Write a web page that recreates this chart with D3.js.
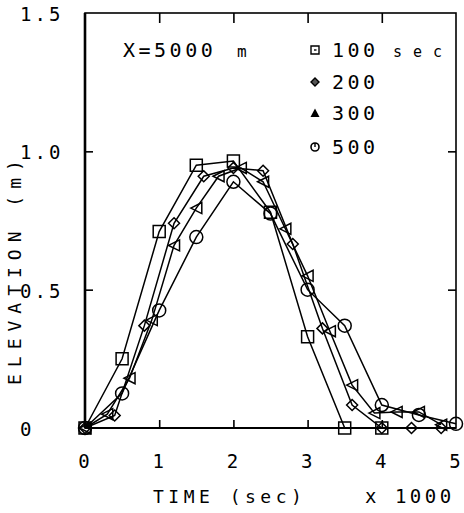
<!DOCTYPE html>
<html>
<head>
<meta charset="utf-8">
<script src="https://cdn.jsdelivr.net/npm/d3@7"></script>
<style>
  body { margin: 0; background: #fff; }
  text { font-family: "DejaVu Sans Mono", monospace; fill: #000; }
</style>
</head>
<body>
<svg id="chart" width="464" height="513"></svg>
<script>
// time in 1000 sec, elevation in m, one pair of arrays per time step
let time100 = [0, 0.5, 1, 1.5, 2, 2.5, 3, 3.5, 4]
let elev100 = [0, 0.25, 0.71, 0.95, 0.965, 0.78, 0.33, 0, 0]

let time200 = [0, 0.4, 0.8, 1.2, 1.6, 2.0, 2.4, 2.8, 3.2, 3.6, 4.0, 4.4, 4.8]
let elev200 = [0, 0.045, 0.37, 0.74, 0.91, 0.94, 0.93, 0.665, 0.36, 0.083, 0, 0, 0]

let time300 = [0, 0.3, 0.6, 0.9, 1.2, 1.5, 1.8, 2.1, 2.4, 2.7, 3.0, 3.3, 3.6, 3.9, 4.2, 4.5, 4.8]
let elev300 = [0, 0.05, 0.18, 0.39, 0.66, 0.795, 0.91, 0.94, 0.89, 0.72, 0.55, 0.35, 0.155, 0.054, 0.058, 0.058, 0.012]

let time500 = [0, 0.5, 1, 1.5, 2, 2.5, 3, 3.5, 4, 4.5, 5]
let elev500 = [0, 0.125, 0.425, 0.69, 0.89, 0.775, 0.5, 0.37, 0.083, 0.047, 0.015]

let xTicks = [0, 1, 2, 3, 4, 5]
let yTicks = [0, 0.5, 1.0, 1.5]
let yTickLabels = ['0', '0.5', '1.0', '1.5']
let legendLabels = ['100', '200', '300', '500']

let width = 464
let height = 513
let margin = {top: 13, right: 8, bottom: 85, left: 85}

let svg = d3.select('#chart')

let xScale = d3.scaleLinear()
                .domain([0, 5])
                .range([margin.left, width - margin.right])
let yScale = d3.scaleLinear()
                .domain([0, 1.5])
                .range([height - margin.bottom, margin.top])

// frame
svg.append('rect')
    .attr('x', xScale(0))
    .attr('y', yScale(1.5))
    .attr('width', xScale(5) - xScale(0))
    .attr('height', yScale(0) - yScale(1.5))
    .attr('fill', 'none')
    .attr('stroke', '#000')
    .attr('stroke-width', 1.6)
svg.append('line')
    .attr('x1', xScale(0)).attr('x2', xScale(0))
    .attr('y1', yScale(1.5)).attr('y2', yScale(0))
    .attr('stroke', '#000').attr('stroke-width', 2.6)
svg.append('line')
    .attr('x1', xScale(0)).attr('x2', xScale(5))
    .attr('y1', yScale(0)).attr('y2', yScale(0))
    .attr('stroke', '#000').attr('stroke-width', 2.2)

let styleAxis = (g) => {
    g.select('.domain').remove()
    g.selectAll('.tick line').attr('stroke', '#000').attr('stroke-width', 1.6)
    g.selectAll('.tick text')
        .style('font-size', '19px')
        .style('letter-spacing', '3px')
}

// bottom axis, ticks point inwards
svg.append('g')
    .attr('transform', 'translate(0,' + yScale(0) + ')')
    .call(d3.axisBottom(xScale).tickValues(xTicks).tickSizeInner(-8).tickSizeOuter(0).tickPadding(27).tickFormat(d3.format('d')))
    .call(styleAxis)
    .call(g => g.selectAll('.tick').filter(d => d === 0 || d === 5).select('line').remove())

// top axis
svg.append('g')
    .attr('transform', 'translate(0,' + yScale(1.5) + ')')
    .call(d3.axisTop(xScale).tickValues([1, 2, 3, 4]).tickSizeInner(-10).tickSizeOuter(0).tickFormat(''))
    .call(styleAxis)

// left axis, labels left aligned
svg.append('g')
    .attr('transform', 'translate(' + xScale(0) + ',0)')
    .call(d3.axisLeft(yScale).tickValues(yTicks).tickSizeInner(-8).tickSizeOuter(0)
        .tickFormat((d, i) => yTickLabels[i]))
    .call(styleAxis)
    .call(g => g.selectAll('.tick text').attr('text-anchor', 'start').attr('x', 20 - margin.left).attr('dy', '0.4em'))
    .call(g => g.selectAll('.tick').filter(d => d === 0 || d === 1.5).select('line').remove())

// right axis
svg.append('g')
    .attr('transform', 'translate(' + xScale(5) + ',0)')
    .call(d3.axisRight(yScale).tickValues([0.5, 1.0]).tickSizeInner(-8).tickSizeOuter(0).tickFormat(''))
    .call(styleAxis)

// axis titles
svg.append('text')
    .attr('x', 153)
    .attr('y', 503)
    .style('font-size', '18px')
    .style('letter-spacing', '4.5px')
    .text('TIME (sec)')
svg.append('text')
    .attr('x', 365)
    .attr('y', 503)
    .style('font-size', '19px')
    .style('letter-spacing', '3.5px')
    .text('x 1000')
svg.append('text')
    .attr('transform', 'translate(21,385) rotate(-90)')
    .style('font-size', '18px')
    .style('letter-spacing', '7px')
    .text('ELEVATION (m)')

// series
let series = [
    {time: time100, elev: elev100, mark: 'square'},
    {time: time200, elev: elev200, mark: 'diamond'},
    {time: time300, elev: elev300, mark: 'triangle'},
    {time: time500, elev: elev500, mark: 'circle'}
]

let line = d3.line()
    .x(d => xScale(d[0]))
    .y(d => yScale(d[1]))

let markPath = (mark, s) => {
    if (mark === 'square') {
        return 'M' + (-s) + ',' + (-s) + 'H' + s + 'V' + s + 'H' + (-s) + 'Z'
    } else if (mark === 'diamond') {
        return 'M0,' + (-s) + 'L' + s + ',0L0,' + s + 'L' + (-s) + ',0Z'
    } else if (mark === 'triangle') {
        return 'M' + (-s) + ',0L' + s + ',' + (-s) + 'L' + s + ',' + s + 'Z'
    } else {
        return 'M' + s + ',0A' + s + ',' + s + ' 0 1,1 ' + (-s) + ',0A' + s + ',' + s + ' 0 1,1 ' + s + ',0Z'
    }
}
let markSize = {square: 6, diamond: 5.5, triangle: 5.5, circle: 6.5}

series.forEach((serie) => {
    let points = serie.time.map((t, i) => [t, serie.elev[i]])

    svg.append('path')
        .datum(points)
        .attr('d', line)
        .attr('fill', 'none')
        .attr('stroke', '#000')
        .attr('stroke-width', 1.5)

    svg.append('g')
        .selectAll('path')
        .data(points)
        .enter()
        .append('path')
        .attr('transform', (p) => 'translate(' + xScale(p[0]) + ',' + yScale(p[1]) + ')')
        .attr('d', markPath(serie.mark, markSize[serie.mark]))
        .attr('fill', 'none')
        .attr('stroke', '#000')
        .attr('stroke-width', 1.5)
})

// legend
svg.append('text')
    .attr('x', 123)
    .attr('y', 57)
    .style('font-size', '20px')
    .style('letter-spacing', '3.5px')
    .text('X=5000')
svg.append('text')
    .attr('x', 237)
    .attr('y', 57)
    .style('font-size', '16px')
    .text('m')

let legendMarks = ['square', 'diamond', 'triangleUp', 'circle']
let legendRows = [50, 82, 113, 147]

legendLabels.forEach((label, i) => {
    let g = svg.append('g').attr('transform', 'translate(315,' + legendRows[i] + ')')
    let mark = legendMarks[i]
    if (mark === 'triangleUp') {
        g.append('path').attr('d', 'M0,-4.5L4.5,4L-4.5,4Z').attr('fill', '#000')
    } else if (mark === 'circle') {
        g.append('circle').attr('r', 4).attr('fill', 'none').attr('stroke', '#000').attr('stroke-width', 1.6)
        g.append('line').attr('x1', 0).attr('x2', 0).attr('y1', -4).attr('y2', 0).attr('stroke', '#000').attr('stroke-width', 1.4)
    } else if (mark === 'diamond') {
        g.append('path').attr('d', markPath('diamond', 4)).attr('fill', '#555').attr('stroke', '#000').attr('stroke-width', 1.4)
    } else {
        g.append('path').attr('d', markPath('square', 4)).attr('fill', 'none').attr('stroke', '#000').attr('stroke-width', 1.4)
        g.append('line').attr('x1', -1).attr('x2', 1.5).attr('y1', 0).attr('y2', 0).attr('stroke', '#000').attr('stroke-width', 1.4)
    }
    g.append('text')
        .attr('x', 17)
        .attr('y', 7)
        .style('font-size', '20px')
        .style('letter-spacing', '3.5px')
        .text(label)
})
svg.append('text')
    .attr('x', 393)
    .attr('y', 57)
    .style('font-size', '15px')
    .style('letter-spacing', '11px')
    .text('sec')
</script>
</body>
</html>
